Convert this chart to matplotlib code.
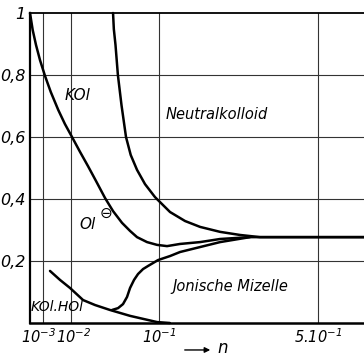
#!/usr/bin/env python3
"""Degree of dissociation of potassium oleate against concentration n."""

import matplotlib

matplotlib.use("Agg")
import matplotlib.pyplot as plt
import matplotlib.transforms as mtransforms
import numpy as np

plt.rcParams["font.family"] = ["Liberation Sans Narrow", "DejaVu Sans"]
plt.rcParams["font.style"] = "italic"
plt.rcParams["mathtext.fontset"] = "custom"
plt.rcParams["mathtext.rm"] = "Liberation Sans Narrow:italic"
plt.rcParams["mathtext.it"] = "Liberation Sans Narrow:italic"

# KOl -> Ol(-) branch
kol_n = [0.0, 0.000044, 0.000217, 0.000604, 0.00136, 0.00261, 0.00483,
         0.00735, 0.01065, 0.0151, 0.0203, 0.0263, 0.034, 0.0416, 0.0511,
         0.0604, 0.0691, 0.0826, 0.0974, 0.1133, 0.1358, 0.1745, 0.218,
         0.292, 0.68]
kol_y = [1.0, 0.945, 0.897, 0.848, 0.797, 0.745, 0.687,
         0.642, 0.600, 0.552, 0.506, 0.458, 0.403, 0.361, 0.323,
         0.297, 0.277, 0.261, 0.252, 0.248, 0.255, 0.261, 0.271,
         0.277, 0.277]

# neutral colloid branch
neutral_n = [0.0416, 0.0424, 0.0441, 0.0466, 0.0505, 0.0556, 0.0612,
             0.0691, 0.0798, 0.0943, 0.1183, 0.145, 0.1745, 0.218, 0.266,
             0.319, 0.68]
neutral_y = [1.0, 0.948, 0.897, 0.800, 0.703, 0.600, 0.542,
             0.494, 0.448, 0.406, 0.358, 0.329, 0.310, 0.294, 0.284,
             0.277, 0.277]

# acid soap KOl.HOl
acid_n = [0.00241, 0.00543, 0.00966, 0.017, 0.0255, 0.0386, 0.0604, 0.0974, 0.118]
acid_y = [0.168, 0.139, 0.113, 0.074, 0.058, 0.042, 0.023, 0.003, 0.0]

# ionic micelle branch
micelle_n = [0.0406, 0.0468, 0.0522, 0.0568, 0.0604, 0.0653, 0.0704, 0.0771,
             0.0841, 0.0989, 0.1183, 0.1358, 0.1745, 0.218, 0.292]
micelle_y = [0.042, 0.048, 0.061, 0.084, 0.113, 0.139, 0.158, 0.174,
             0.184, 0.203, 0.216, 0.229, 0.245, 0.261, 0.277]

x_ticks = [0.001, 0.01, 0.1, 0.5]
x_tick_labels = [r"$10^{-3}$", r"$10^{-2}$", r"$10^{-1}$", r"$5.10^{-1}$"]
y_ticks = [0.2, 0.4, 0.6, 0.8, 1.0]
y_tick_labels = ["0,2", "0,4", "0,6", "0,8", "1"]


def forward(x):
    return np.sqrt(np.clip(x, 0, None))


def inverse(x):
    return np.square(x)


fig = plt.figure(figsize=(3.64, 3.57), dpi=100)
ax = fig.add_axes([30 / 364, 34 / 357, 334 / 364, 310 / 357])
ax.set_xscale("function", functions=(forward, inverse))
ax.set_xlim(0, 0.673)
ax.set_ylim(0, 1.0)

for xs, ys in [(kol_n, kol_y), (neutral_n, neutral_y),
               (acid_n, acid_y), (micelle_n, micelle_y)]:
    ax.plot(xs, ys, color="black", lw=1.8, solid_capstyle="round",
            solid_joinstyle="round", clip_on=False)

for t in x_ticks:
    ax.axvline(t, color="#333333", lw=0.8, zorder=0)
for t in y_ticks[:-1]:
    ax.axhline(t, color="#333333", lw=0.8, zorder=0)

ax.set_xticks(x_ticks, x_tick_labels, fontsize=10.5)
ax.set_yticks(y_ticks, y_tick_labels, fontsize=11.5)
ax.tick_params(length=0, pad=3)

# the two smallest labels sit close together; nudge them apart a little
labels = ax.get_xticklabels()
for lbl, dx in [(labels[0], -4), (labels[1], 3)]:
    lbl.set_transform(lbl.get_transform()
                      + mtransforms.ScaledTranslation(dx / 100, 0, fig.dpi_scale_trans))

ax.spines["right"].set_visible(False)
ax.spines["left"].set_linewidth(1.6)
ax.spines["bottom"].set_linewidth(1.8)
ax.spines["top"].set_linewidth(1.3)

ax.text(0.0139, 0.735, "KOl", fontsize=11, ha="center", va="center")
ax.text(0.211, 0.674, "Neutralkolloid", fontsize=10.5, ha="center", va="center")
ax.text(0.0203, 0.319, "Ol", fontsize=11, ha="center", va="center")
ax.text(0.0349, 0.352, "\u2296", fontsize=11, ha="center", va="center",
        family="DejaVu Sans", style="normal")
ax.text(0.2415, 0.119, "Jonische Mizelle", fontsize=10.5, ha="center", va="center")
ax.text(0.0044, 0.052, "KOl.HOl", fontsize=10, ha="center", va="center")

ax.annotate("", xy=(0.548, -0.087), xytext=(0.455, -0.087),
            xycoords="axes fraction", textcoords="axes fraction",
            arrowprops=dict(arrowstyle="-|>", color="black", lw=1.0,
                            mutation_scale=8))
ax.text(0.578, -0.096, "n", fontsize=12, ha="center", va="baseline",
        transform=ax.transAxes)

fig.savefig("out.png", dpi=100)
